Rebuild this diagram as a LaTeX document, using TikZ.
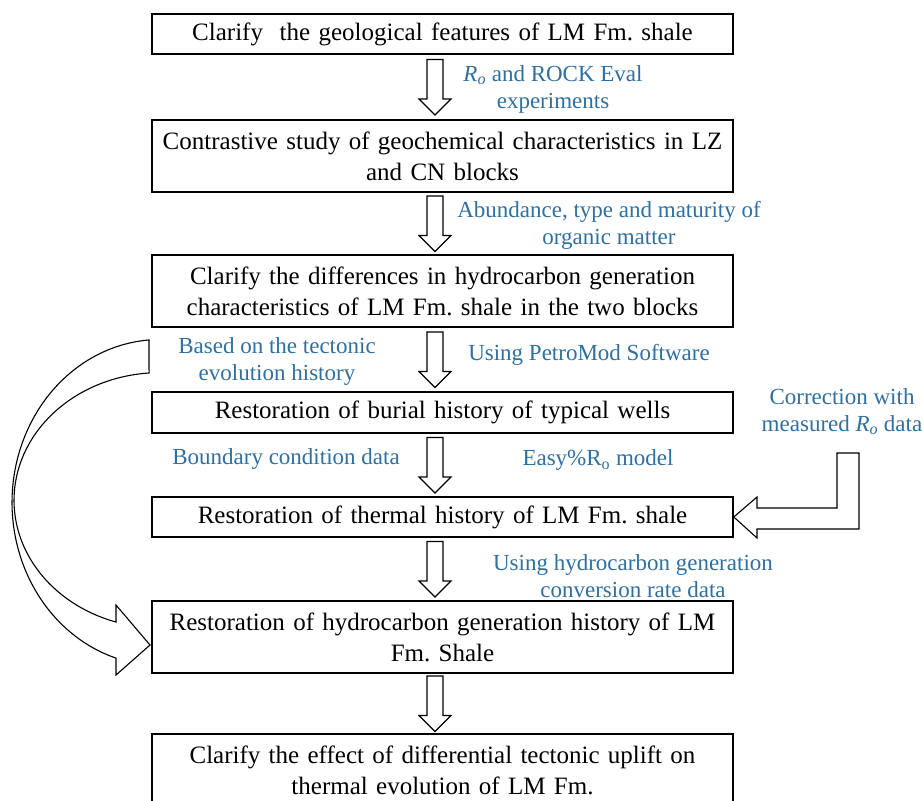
\documentclass[tikz,border=0pt]{standalone}
\usepackage{fontspec}
\setmainfont{Liberation Serif}
\usepackage{xcolor}
\usetikzlibrary{calc}
\definecolor{FlowBlue}{HTML}{2F70A0}
\frenchspacing

\begin{document}
\begin{tikzpicture}[x=1pt,y=-1pt,
  stagebox/.style={draw,line width=1.6pt,minimum width=581pt,text width=575pt,align=center,inner sep=0pt,font=\fontsize{25}{31}\selectfont},
  steplabel/.style={text=FlowBlue,align=center,inner sep=0pt,font=\fontsize{23}{27}\selectfont},
  blockline/.style={draw,line width=1.1pt,fill=white}]
\clip (0,0) rectangle (923,800);
\fill[white] (0,0) rectangle (923,800);
% stages
\node[stagebox,minimum height=40pt] (geo) at (442.5,34) {Clarify\ \ the geological features of LM Fm. shale};
\node[stagebox,minimum height=72pt] (geochem) at (442.5,156) {Contrastive study of geochemical characteristics in LZ\\and CN blocks};
\node[stagebox,minimum height=72pt] (diff) at (442.5,291) {Clarify the differences in hydrocarbon generation\\characteristics of LM Fm. shale in the two blocks};
\node[stagebox,minimum height=41pt] (burial) at (442.5,412.5) {Restoration of burial history of typical wells};
\node[stagebox,minimum height=40pt] (thermal) at (442.5,517) {Restoration of thermal history of LM Fm. shale};
\node[stagebox,minimum height=72pt] (hcgen) at (442.5,637) {Restoration of hydrocarbon generation history of LM\\Fm. Shale};
\node[stagebox,minimum height=72pt] (uplift) at (442.5,770) {Clarify the effect of differential tectonic uplift on\\thermal evolution of LM Fm.};
% down arrows
\foreach \a/\b in {geo/geochem,geochem/diff,diff/burial,burial/thermal,thermal/hcgen,hcgen/uplift}{
  \coordinate (arr-\a) at ($(\a.south)!.5!(\b.north)+(-7.5,0)$);
  \path[blockline] ([shift={(-8,-27.5)}]arr-\a) -- ++(16,0) -- ++(0,39.5) -- ++(8,0)
    -- ++(-16,16) -- ++(-16,-16) -- ++(8,0) -- cycle;
}
% labels
\node[steplabel] (lblRo) at (553,89) {\textit{R}\textsubscript{\textit{o}} and ROCK Eval\\experiments};
\node[steplabel] (lblOM) at (609,225) {Abundance, type and maturity of\\organic matter};
\node[steplabel] (lblTect) at (277,361.5) {Based on the tectonic\\evolution history};
\node[steplabel] (lblPetro) at (589,355) {Using PetroMod Software};
\node[steplabel] (lblCorr) at (842,411.5) {Correction with\\measured \textit{R}\textsubscript{\textit{o}} data};
\node[steplabel] (lblBound) at (286,459) {Boundary condition data};
\node[steplabel] (lblEasy) at (598,460) {Easy\%R\textsubscript{o} model};
\node[steplabel] (lblConv) at (633,576) {Using hydrocarbon generation\\conversion rate data};
% curved arrow, tectonic history
\path[blockline] (149,340)
  -- plot[domain=266:107.3,samples=60] ({160+148*cos(\x)},{502.5+163*sin(\x)})
  -- (116,675) -- (150,645) -- (116,605) -- (116,622)
  -- plot[domain=107.3:265.7,samples=60] ({160+146*cos(\x)},{500.3+127.7*sin(\x)})
  -- cycle;
% bent arrow, Ro correction
\path[blockline] (859,453) -- (837,453) -- (837,508) -- (757,508) -- (757,497)
  -- (thermal.east) -- (757,538) -- (757,529) -- (859,529) -- cycle;
\end{tikzpicture}
\end{document}
